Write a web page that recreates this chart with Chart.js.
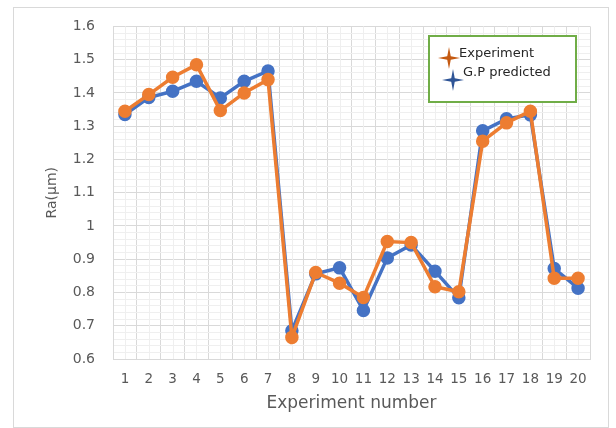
<!DOCTYPE html>
<html>
<head>
<meta charset="utf-8">
<script src="https://cdn.jsdelivr.net/npm/chart.js@4"></script>
<style>
  html, body { margin: 0; padding: 0; background: #fff; }
  #wrap { width: 616px; height: 428px; }
</style>
</head>
<body>
<div id="wrap"><canvas id="chart" width="616" height="428"></canvas></div>
<script>
var experiments = ['1','2','3','4','5','6','7','8','9','10','11','12','13','14','15','16','17','18','19','20'];
var experiment = [1.345, 1.395, 1.447, 1.485, 1.347, 1.40, 1.44, 0.665, 0.86, 0.828, 0.785, 0.953, 0.95, 0.817, 0.802, 1.255, 1.31, 1.345, 0.843, 0.843];
var predicted = [1.335, 1.386, 1.405, 1.435, 1.385, 1.435, 1.466, 0.685, 0.856, 0.874, 0.746, 0.904, 0.943, 0.864, 0.784, 1.286, 1.322, 1.334, 0.872, 0.813];
var yMin = 0.6, yMax = 1.6;

var orange = '#ED7D31', blue = '#4472C4';
var gridMajor = '#d9d9d9', gridMinor = '#efefef';
var font = 'DejaVu Sans';

function drawStar(ctx, x, y, r, color) {
    var i0 = r * 0.16;
    ctx.save();
    ctx.fillStyle = color;
    ctx.beginPath();
    ctx.moveTo(x, y - r);
    ctx.lineTo(x + i0, y - i0);
    ctx.lineTo(x + r, y);
    ctx.lineTo(x + i0, y + i0);
    ctx.lineTo(x, y + r);
    ctx.lineTo(x - i0, y + i0);
    ctx.lineTo(x - r, y);
    ctx.lineTo(x - i0, y - i0);
    ctx.closePath();
    ctx.fill();
    ctx.restore();
}

// minor vertical grid lines at category centers, outer frame and boxed legend
var extras = {
    id: 'extras',
    beforeDatasetsDraw: function(chart) {
        var ctx = chart.ctx, a = chart.chartArea, xs = chart.scales.x;
        ctx.save();
        ctx.strokeStyle = gridMinor;
        ctx.lineWidth = 1;
        for (var i = 0; i < experiments.length; i++) {
            var px = Math.round(xs.getPixelForValue(i)) + 0.5;
            ctx.beginPath();
            ctx.moveTo(px, a.top);
            ctx.lineTo(px, a.bottom);
            ctx.stroke();
        }
        ctx.restore();
    },
    afterDraw: function(chart) {
        var ctx = chart.ctx;
        ctx.save();
        ctx.strokeStyle = '#d9d9d9';
        ctx.lineWidth = 1;
        ctx.strokeRect(13.5, 7.5, 595, 420);

        // legend
        ctx.fillStyle = '#fff';
        ctx.fillRect(429, 36, 147, 66);
        ctx.strokeStyle = '#70AD47';
        ctx.lineWidth = 2;
        ctx.strokeRect(429, 36, 147, 66);
        drawStar(ctx, 449, 58, 11, '#C55A11');
        drawStar(ctx, 453, 80, 11, '#2F5597');
        ctx.fillStyle = '#262626';
        ctx.font = '13px "' + font + '"';
        ctx.textBaseline = 'middle';
        ctx.fillText('Experiment', 459, 54);
        ctx.fillText('G.P predicted', 463, 73);
        ctx.restore();
    }
};

new Chart(document.getElementById('chart').getContext('2d'), {
    type: 'line',
    data: {
        labels: experiments,
        datasets: [{
            label: 'Experiment',
            data: experiment,
            borderColor: orange,
            backgroundColor: orange,
            borderWidth: 3.5,
            pointRadius: 5,
            pointHoverRadius: 5,
            tension: 0
        }, {
            label: 'G.P predicted',
            data: predicted,
            borderColor: blue,
            backgroundColor: blue,
            borderWidth: 3.5,
            pointRadius: 5,
            pointHoverRadius: 5,
            tension: 0
        }]
    },
    options: {
        responsive: false,
        animation: false,
        layout: { padding: { left: 0, top: 25, right: 26, bottom: 0 } },
        plugins: {
            legend: { display: false },
            tooltip: { enabled: false }
        },
        scales: {
            x: {
                offset: true,
                grid: { offset: true, color: gridMajor, drawTicks: false },
                border: { color: gridMajor },
                ticks: { color: '#595959', font: { family: font, size: 13.5 }, padding: 12, maxRotation: 0, autoSkip: false },
                title: { display: true, text: 'Experiment number', color: '#595959',
                         font: { family: font, size: 17 }, padding: { top: 0, bottom: 14 } },
                afterFit: function(s) { s.height = 69; }
            },
            y: {
                min: yMin,
                max: yMax,
                grid: {
                    drawTicks: false,
                    color: function(c) {
                        if (!c.tick) return gridMajor;
                        return Math.round(c.tick.value * 100) % 10 === 0 ? gridMajor : gridMinor;
                    }
                },
                border: { color: gridMajor },
                ticks: {
                    stepSize: 0.02,
                    autoSkip: false,
                    color: '#595959',
                    font: { family: font, size: 14 },
                    padding: 18,
                    callback: function(v) {
                        var h = Math.round(v * 100);
                        if (h % 10 !== 0) return '';
                        return String(h / 100);
                    }
                },
                title: { display: true, text: 'Ra(µm)', color: '#595959',
                         font: { family: font, size: 14 }, padding: { top: 44, bottom: 0 } },
                afterFit: function(s) { s.width = 113; }
            }
        }
    },
    plugins: [extras]
});
</script>
</body>
</html>
